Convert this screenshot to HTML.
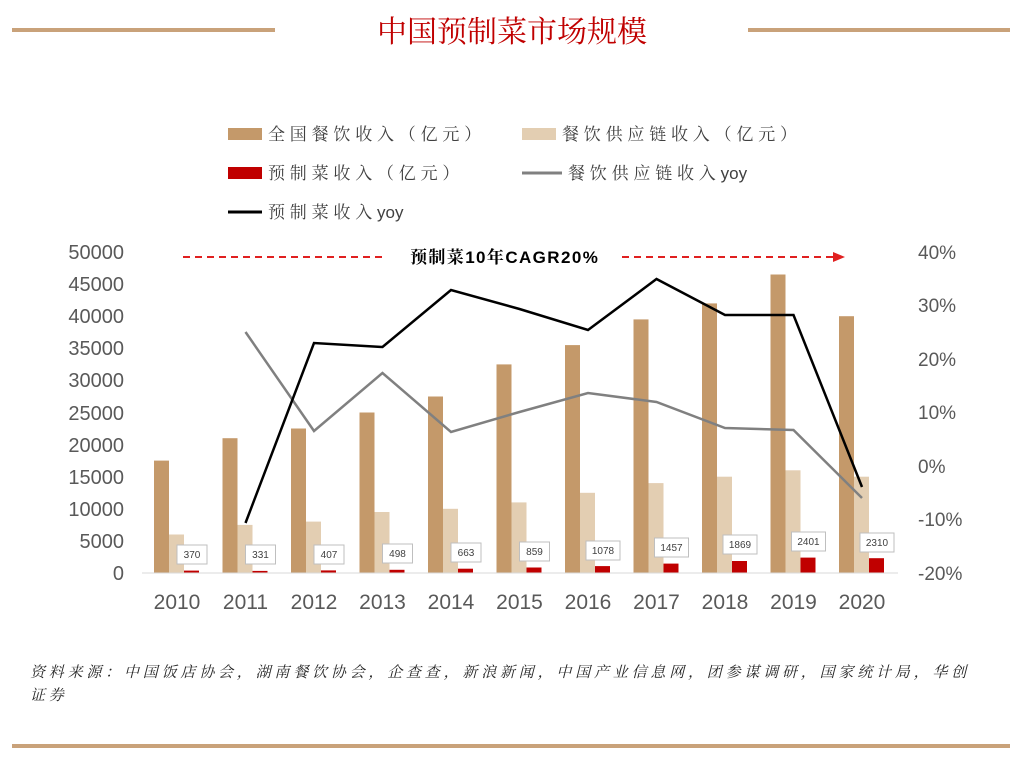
<!DOCTYPE html>
<html><head><meta charset="utf-8"><style>
html,body{margin:0;padding:0;background:#fff;}
svg{display:block;}
text{font-family:"Liberation Sans","Noto Sans CJK SC",sans-serif;}
.cn{font-family:"Noto Serif CJK SC","Liberation Serif",serif;}
</style></head><body>
<svg width="1024" height="765" viewBox="0 0 1024 765" xmlns="http://www.w3.org/2000/svg">
<rect width="1024" height="765" fill="#fff"/>
<line x1="12" y1="30" x2="275" y2="30" stroke="#c9a27a" stroke-width="4"/>
<line x1="748" y1="30" x2="1010" y2="30" stroke="#c9a27a" stroke-width="4"/>
<text x="512" y="42" text-anchor="middle" class="cn" font-size="30" fill="#c00000">中国预制菜市场规模</text>
<line x1="12" y1="746" x2="1010" y2="746" stroke="#c9a27a" stroke-width="4"/>

<!-- legend -->
<g font-size="17" fill="#404040" letter-spacing="4.8">
<rect x="228" y="128" width="34" height="12" fill="#c4996a"/>
<text x="268" y="140" class="cn">全国餐饮收入（亿元）</text>
<rect x="522" y="128" width="34" height="12" fill="#e3ceb2"/>
<text x="562" y="140" class="cn">餐饮供应链收入（亿元）</text>
<rect x="228" y="167" width="34" height="12" fill="#c00000"/>
<text x="268" y="179" class="cn">预制菜收入（亿元）</text>
<line x1="522" y1="173" x2="562" y2="173" stroke="#808080" stroke-width="3"/>
<text x="568" y="179" class="cn">餐饮供应链收入<tspan font-family="Liberation Sans" letter-spacing="0">yoy</tspan></text>
<line x1="228" y1="212" x2="262" y2="212" stroke="#000" stroke-width="3"/>
<text x="268" y="218" class="cn">预制菜收入<tspan font-family="Liberation Sans" letter-spacing="0">yoy</tspan></text>
</g>

<!-- left axis -->
<g font-size="20" fill="#595959" text-anchor="end">
<text x="124" y="259">50000</text><text x="124" y="291">45000</text><text x="124" y="323">40000</text>
<text x="124" y="355">35000</text><text x="124" y="387">30000</text><text x="124" y="420">25000</text>
<text x="124" y="452">20000</text><text x="124" y="484">15000</text><text x="124" y="516">10000</text>
<text x="124" y="548">5000</text><text x="124" y="580">0</text>
</g>
<g font-size="19" fill="#595959">
<text x="918" y="259">40%</text><text x="918" y="312">30%</text><text x="918" y="366">20%</text>
<text x="918" y="419">10%</text><text x="918" y="473">0%</text><text x="918" y="526">-10%</text>
<text x="918" y="580">-20%</text>
</g>
<g font-size="21" fill="#595959" text-anchor="middle">
<text x="177" y="609">2010</text><text x="245.5" y="609">2011</text><text x="314" y="609">2012</text>
<text x="382.5" y="609">2013</text><text x="451" y="609">2014</text><text x="519.5" y="609">2015</text>
<text x="588" y="609">2016</text><text x="656.5" y="609">2017</text><text x="725" y="609">2018</text>
<text x="793.5" y="609">2019</text><text x="862" y="609">2020</text>
</g>

<!-- bars -->
<g fill="#c4996a">
<rect x="154" y="460.6" width="15" height="112.4"/><rect x="222.5" y="438.2" width="15" height="134.8"/>
<rect x="291" y="428.5" width="15" height="144.5"/><rect x="359.5" y="412.5" width="15" height="160.5"/>
<rect x="428" y="396.5" width="15" height="176.5"/><rect x="496.5" y="364.4" width="15" height="208.6"/>
<rect x="565" y="345.1" width="15" height="227.9"/><rect x="633.5" y="319.4" width="15" height="253.6"/>
<rect x="702" y="303.4" width="15" height="269.6"/><rect x="770.5" y="274.5" width="15" height="298.5"/>
<rect x="839" y="316.2" width="15" height="256.8"/>
</g>
<g fill="#e3ceb2">
<rect x="169" y="534.5" width="15" height="38.5"/><rect x="237.5" y="524.9" width="15" height="48.1"/>
<rect x="306" y="521.6" width="15" height="51.4"/><rect x="374.5" y="512" width="15" height="61"/>
<rect x="443" y="508.8" width="15" height="64.2"/><rect x="511.5" y="502.4" width="15" height="70.6"/>
<rect x="580" y="492.8" width="15" height="80.2"/><rect x="648.5" y="483.1" width="15" height="89.9"/>
<rect x="717" y="476.7" width="15" height="96.3"/><rect x="785.5" y="470.3" width="15" height="102.7"/>
<rect x="854" y="476.7" width="15" height="96.3"/>
</g>
<g fill="#c00000">
<rect x="184" y="570.6" width="15" height="2.4"/><rect x="252.5" y="570.9" width="15" height="2.1"/>
<rect x="321" y="570.4" width="15" height="2.6"/><rect x="389.5" y="569.8" width="15" height="3.2"/>
<rect x="458" y="568.7" width="15" height="4.3"/><rect x="526.5" y="567.5" width="15" height="5.5"/>
<rect x="595" y="566.1" width="15" height="6.9"/><rect x="663.5" y="563.6" width="15" height="9.4"/>
<rect x="732" y="561" width="15" height="12"/><rect x="800.5" y="557.6" width="15" height="15.4"/>
<rect x="869" y="558.2" width="15" height="14.8"/>
</g>
<line x1="142" y1="573" x2="898" y2="573" stroke="#d9d9d9" stroke-width="1"/>

<!-- data labels -->
<g font-size="10" fill="#404040" text-anchor="middle">
<rect x="177" y="545" width="30" height="19" fill="#fff" stroke="#bfbfbf"/><text x="192" y="558">370</text>
<rect x="245.5" y="545" width="30" height="19" fill="#fff" stroke="#bfbfbf"/><text x="260.5" y="558">331</text>
<rect x="314" y="545" width="30" height="19" fill="#fff" stroke="#bfbfbf"/><text x="329" y="558">407</text>
<rect x="382.5" y="544" width="30" height="19" fill="#fff" stroke="#bfbfbf"/><text x="397.5" y="557">498</text>
<rect x="451" y="543" width="30" height="19" fill="#fff" stroke="#bfbfbf"/><text x="466" y="556">663</text>
<rect x="519.5" y="542" width="30" height="19" fill="#fff" stroke="#bfbfbf"/><text x="534.5" y="555">859</text>
<rect x="586" y="541" width="34" height="19" fill="#fff" stroke="#bfbfbf"/><text x="603" y="554">1078</text>
<rect x="654.5" y="538" width="34" height="19" fill="#fff" stroke="#bfbfbf"/><text x="671.5" y="551">1457</text>
<rect x="723" y="535" width="34" height="19" fill="#fff" stroke="#bfbfbf"/><text x="740" y="548">1869</text>
<rect x="791.5" y="532" width="34" height="19" fill="#fff" stroke="#bfbfbf"/><text x="808.5" y="545">2401</text>
<rect x="860" y="533" width="34" height="19" fill="#fff" stroke="#bfbfbf"/><text x="877" y="546">2310</text>
</g>

<!-- lines -->
<polyline fill="none" stroke="#808080" stroke-width="2.5" points="245.5,332 314,431 382.5,373 451,432 519.5,412 588,393 656.5,402 725,428 793.5,430 862,498"/>
<polyline fill="none" stroke="#000" stroke-width="2.5" points="245.5,523 314,343 382.5,347 451,290 519.5,309 588,330 656.5,279 725,315 793.5,315 862,487"/>

<!-- CAGR -->
<line x1="183" y1="257" x2="383" y2="257" stroke="#e02020" stroke-width="2" stroke-dasharray="7,5"/>
<line x1="622" y1="257" x2="835" y2="257" stroke="#e02020" stroke-width="2" stroke-dasharray="7,5"/>
<polygon points="833,252 845,257 833,262" fill="#e02020"/>
<text x="410" y="263" font-size="17" font-weight="bold" fill="#000" class="cn" letter-spacing="1.4">预制菜<tspan font-family="Liberation Sans">10</tspan>年<tspan font-family="Liberation Sans">CAGR20%</tspan></text>

<!-- source -->
<g font-size="15" fill="#262626" font-style="italic" letter-spacing="3.8">
<text x="30" y="677" class="cn">资料来源：中国饭店协会，湖南餐饮协会，企查查，新浪新闻，中国产业信息网，团参谋调研，国家统计局，华创</text>
<text x="30" y="700" class="cn">证券</text>
</g>
</svg>
</body></html>
